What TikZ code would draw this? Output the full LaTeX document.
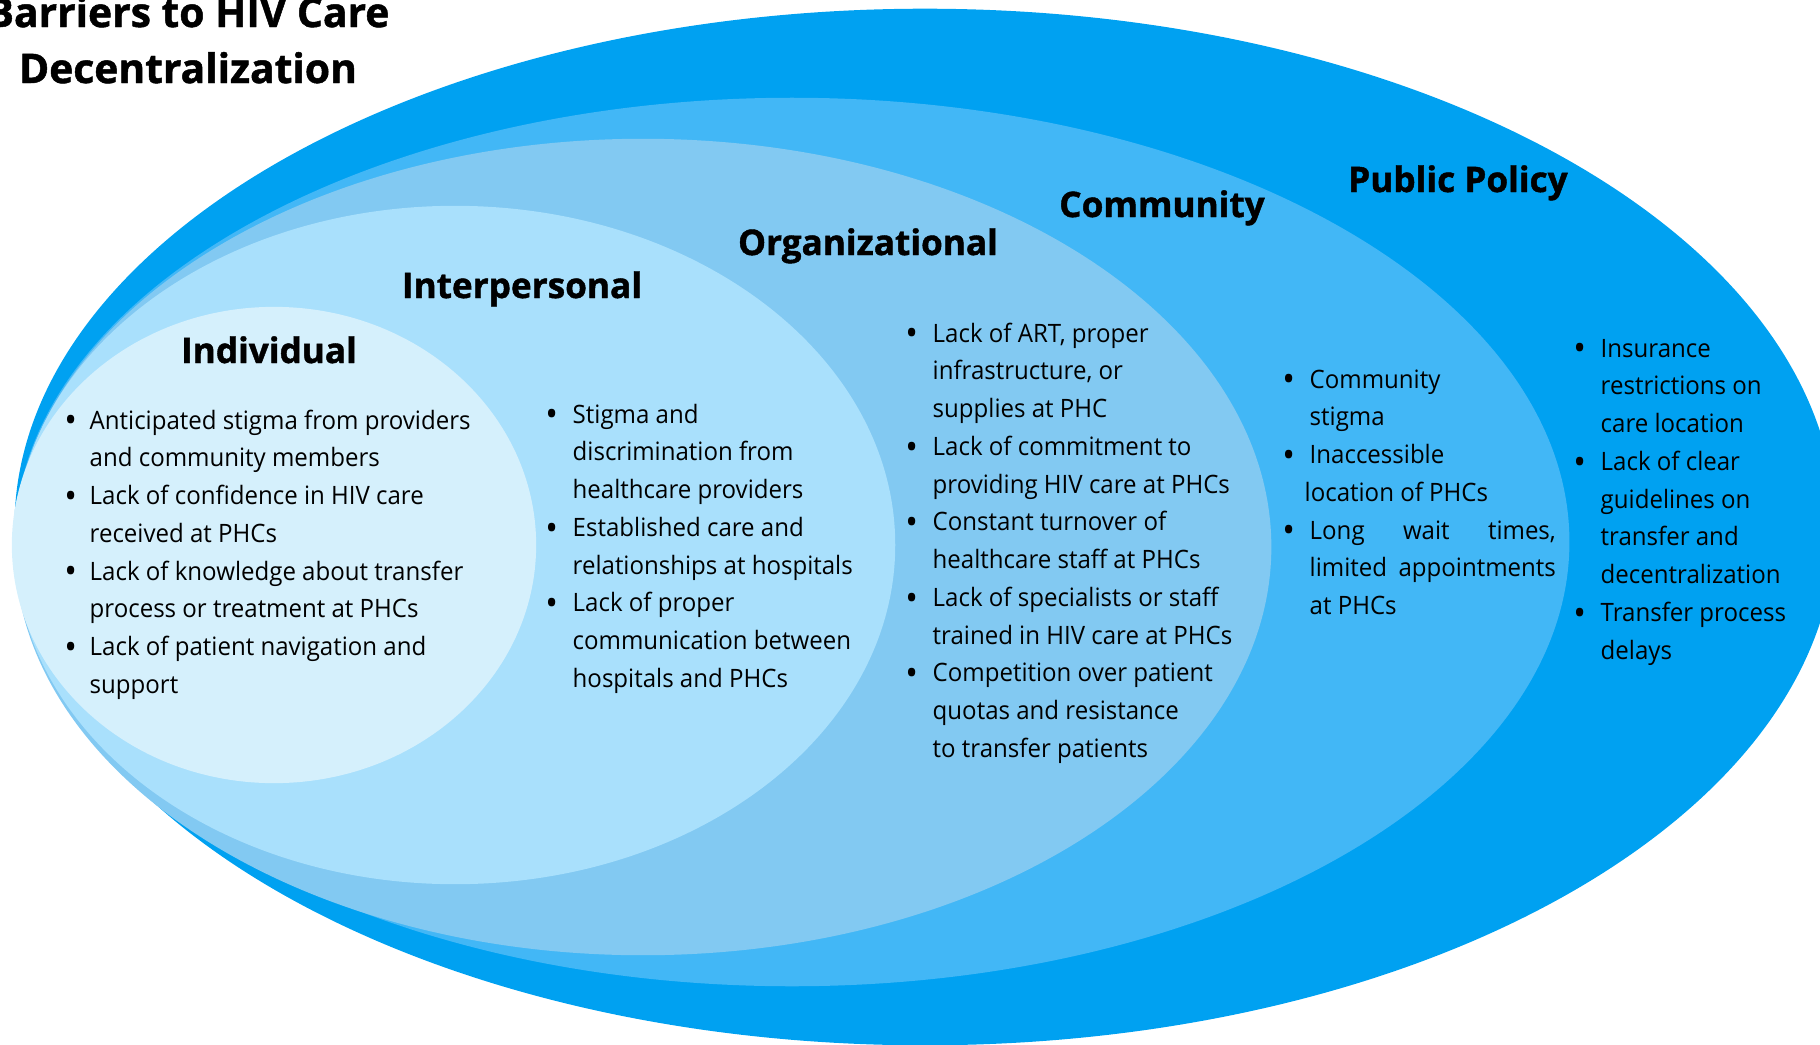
\documentclass[tikz,border=0pt]{standalone}
\usepackage{fontspec}
\setmainfont{Open Sans}
\newfontfamily\bodyfam{Open Sans}[FakeStretch=0.95]
\newfontfamily\headfam{Open Sans}[BoldFeatures={FakeBold=1.2}]
\usetikzlibrary{positioning}
\definecolor{polc}{RGB}{0,161,241}
\definecolor{comc}{RGB}{66,183,246}
\definecolor{orgc}{RGB}{130,201,242}
\definecolor{intc}{RGB}{169,224,252}
\definecolor{indc}{RGB}{213,240,252}
\newcommand{\bodyfont}{\bodyfam\fontsize{7.2pt}{10.74pt}\selectfont}
\newcommand{\bul}{\makebox[0pt]{\raisebox{-0.28ex}{\scalebox{1.4}{\textbullet}}}}
\tikzset{
  ttl/.style={anchor=base, inner sep=0pt, font=\headfam\fontsize{11.6pt}{14pt}\selectfont\bfseries},
  head/.style={anchor=base, inner sep=0pt, font=\headfam\fontsize{10pt}{12pt}\selectfont\bfseries},
  items/.style={anchor=base west, inner sep=0pt, font=\bodyfont},
}

\begin{document}
\begin{tikzpicture}[x=0.01cm, y=-0.01cm]
  \useasboundingbox (0,0) rectangle (1820,1045);
  \clip (0,0) rectangle (1820,1045);
  % nested levels, outermost first
  \fill[polc] (925,527) ellipse [x radius=9.10cm, y radius=5.18cm];
  \fill[comc] (792,542) ellipse [x radius=7.77cm, y radius=4.44cm];
  \fill[orgc] (643,547) ellipse [x radius=6.28cm, y radius=4.08cm];
  \fill[intc] (455,545) ellipse [x radius=4.40cm, y radius=3.39cm];
  \fill[indc] (274,545) ellipse [x radius=2.62cm, y radius=2.38cm];

  \node[ttl] (ttlA) at (188,27) {Barriers to HIV Care};
  \node[ttl] (ttlB) at (188,83) {Decentralization};

  \node[head] (indHead) at (269,363)  {Individual};
  \node[head] (intHead) at (522,298)  {Interpersonal};
  \node[head] (orgHead) at (868,255)  {Organizational};
  \node[head] (comHead) at (1162,217) {Community};
  \node[head] (polHead) at (1458,192) {Public Policy};

  \node[items] (indList) at (70,429) {\begin{tabular}[t]{@{}l@{\hspace{0.19cm}}l@{}}
    \bul & Anticipated stigma from providers\\
         & and community members\\
    \bul & Lack of confidence in HIV care\\
         & received at PHCs\\
    \bul & Lack of knowledge about transfer\\
         & process or treatment at PHCs\\
    \bul & Lack of patient navigation and\\
         & support
  \end{tabular}};
  \node[items] (intList) at (551,423) {\begin{tabular}[t]{@{}l@{\hspace{0.21cm}}l@{}}
    \bul & Stigma and\\
         & discrimination from\\
         & healthcare providers\\
    \bul & Established care and\\
         & relationships at hospitals\\
    \bul & Lack of proper\\
         & communication between\\
         & hospitals and PHCs
  \end{tabular}};
  \node[items] (orgList) at (911,342) {\begin{tabular}[t]{@{}l@{\hspace{0.21cm}}l@{}}
    \bul & Lack of ART, proper\\
         & infrastructure, or\\
         & supplies at PHC\\
    \bul & Lack of commitment to\\
         & providing HIV care at PHCs\\
    \bul & Constant turnover of\\
         & healthcare staff at PHCs\\
    \bul & Lack of specialists or staff\\
         & trained in HIV care at PHCs\\
    \bul & Competition over patient\\
         & quotas and resistance\\
         & to transfer patients
  \end{tabular}};
  \node[items] (comList) at (1288,388) {\begin{tabular}[t]{@{}l@{\hspace{0.21cm}}l@{}}
    \bul & Community\\
         & stigma\\
    \bul & Inaccessible\\
         & \hspace{-0.05cm}location of PHCs\\
    \bul & \makebox[2.46cm][s]{Long wait times,}\\
         & \makebox[2.46cm][s]{limited appointments}\\
         & at PHCs
  \end{tabular}};
  \node[items] (polList) at (1579,357) {\begin{tabular}[t]{@{}l@{\hspace{0.21cm}}l@{}}
    \bul & Insurance\\
         & restrictions on\\
         & care location\\
    \bul & Lack of clear\\
         & guidelines on\\
         & transfer and\\
         & decentralization\\
    \bul & Transfer process\\
         & delays
  \end{tabular}};
\end{tikzpicture}
\end{document}
